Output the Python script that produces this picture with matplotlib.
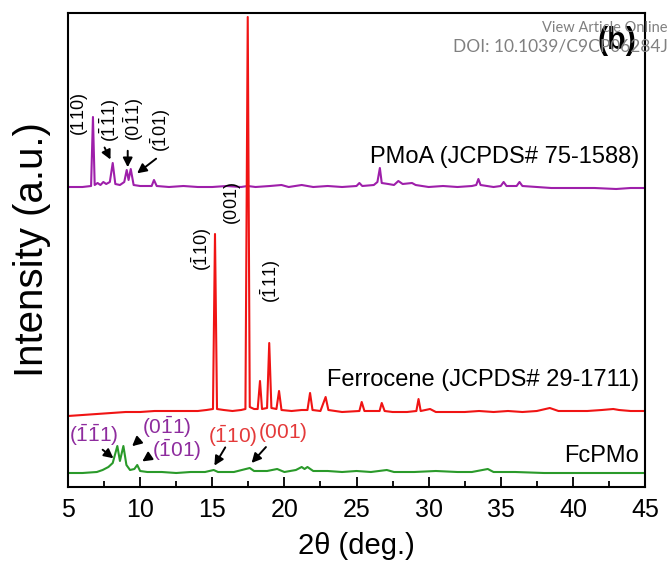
import matplotlib
matplotlib.use('Agg')
import matplotlib.pyplot as plt
from matplotlib.ticker import MultipleLocator

plt.rcParams['font.family'] = ['Liberation Sans', 'DejaVu Sans']
plt.rcParams['mathtext.fontset'] = 'custom'
plt.rcParams['mathtext.rm'] = 'Liberation Sans'
plt.rcParams['mathtext.it'] = 'Liberation Sans:italic'
plt.rcParams['mathtext.bf'] = 'Liberation Sans:bold'

# traced XRD patterns (2theta, stacked intensity in a.u.)
pmoa_tt = [5.0, 6.0, 6.6, 6.73, 6.85, 7.05, 7.25, 7.45, 7.65, 7.9, 8.1, 8.28, 8.6, 8.9,
           9.07, 9.2, 9.35, 9.55, 10.0, 10.8, 10.96, 11.15, 12.0, 13.0, 14.0, 15.0, 16.0,
           17.0, 17.45, 18.0, 19.0, 19.8, 20.3, 21.2, 22.0, 23.0, 24.0, 25.0, 25.2, 25.4,
           26.2, 26.45, 26.62, 26.75, 27.2, 27.6, 27.9, 28.2, 28.85, 29.1, 30.0, 31.0,
           32.0, 33.0, 33.3, 33.45, 33.6, 34.5, 35.0, 35.2, 35.4, 36.1, 36.3, 36.5, 37.5,
           38.5, 40.0, 41.5, 43.0, 44.0, 45.0]
pmoa_i = [300, 300, 301, 370, 302, 304, 302, 305, 303, 305, 324, 303, 302, 305,
          317, 307, 318, 302, 301, 301, 307, 301, 300, 301, 300, 300, 301,
          300, 301, 300, 301, 302, 300, 302, 300, 301, 300, 301, 304, 301,
          302, 305, 319, 304, 303, 302, 306, 303, 304, 302, 300, 301,
          300, 301, 302, 308, 302, 300, 301, 305, 301, 301, 305, 301, 300,
          299, 299, 299, 298, 299, 299]

fc_tt = [5.0, 6.0, 7.0, 8.0, 9.0, 10.0, 11.0, 12.0, 13.0, 14.0, 14.6, 15.05, 15.19, 15.33,
         15.8, 16.4, 17.0, 17.3, 17.46, 17.6, 17.9, 18.15, 18.31, 18.45, 18.8, 18.95, 19.1,
         19.45, 19.63, 19.8, 20.5, 21.2, 21.6, 21.78, 21.95, 22.5, 22.86, 23.05, 24.0, 25.2,
         25.36, 25.55, 26.0, 26.6, 26.75, 26.95, 27.5, 28.5, 29.15, 29.3, 29.45, 30.1, 30.5,
         31.5, 32.5, 33.5, 34.5, 35.5, 36.5, 37.5, 38.4, 39.0, 40.0, 41.0, 42.0, 42.8,
         43.2, 44.0, 45.0]
fc_i = [71, 72, 73, 74, 75, 75, 76, 76, 76, 76, 77, 78, 253, 78,
        77, 76, 77, 78, 470, 80, 78, 78, 106, 78, 79, 144, 79,
        78, 96, 77, 76, 77, 77, 94, 77, 76, 90, 77, 75, 76,
        85, 76, 76, 76, 84, 76, 75, 75, 76, 88, 76, 78, 75,
        75, 75, 76, 75, 76, 75, 76, 79, 76, 76, 76, 77, 78,
        77, 76, 76]

fcpmo_tt = [5.0, 6.0, 7.0, 7.4, 7.8, 8.1, 8.42, 8.6, 8.84, 9.05, 9.3, 9.6, 9.8, 10.0, 10.5,
            11.5, 12.5, 13.5, 14.5, 15.1, 15.4, 16.5, 17.6, 17.9, 18.8, 19.5, 20.0, 20.8,
            21.2, 21.4, 21.6, 22.0, 23.0, 24.0, 25.0, 26.0, 27.1, 27.6, 29.0, 30.5, 32.0,
            33.0, 34.1, 34.5, 36.0, 38.0, 40.0, 42.0, 45.0]
fcpmo_i = [14, 14, 15, 17, 20, 24, 41, 26, 41, 22, 17, 18, 22, 16, 15,
           15, 14, 15, 15, 17, 15, 15, 19, 16, 16, 18, 15, 17,
           20, 18, 20, 16, 16, 15, 16, 15, 17, 15, 15, 16, 15,
           15, 18, 15, 15, 14, 14, 14, 14]

purple = '#9E1FAA'
red = '#F01414'
green = '#2A9A2A'
lab_purple = '#8E2C9E'
lab_red = '#E43A3A'

fig = plt.figure(figsize=(6.69, 5.62), dpi=100)
ax = fig.add_axes([68 / 669, 1 - 487 / 562, 577 / 669, 474 / 562])

ax.plot(pmoa_tt, pmoa_i, color=purple, lw=1.5)
ax.plot(fc_tt, fc_i, color=red, lw=1.5)
ax.plot(fcpmo_tt, fcpmo_i, color=green, lw=1.5)

ax.set_xlim(5, 45)
ax.set_ylim(0, 474)
ax.xaxis.set_major_locator(MultipleLocator(5))
ax.xaxis.set_minor_locator(MultipleLocator(2.5))
ax.tick_params(axis='x', which='major', direction='in', length=7, width=1.3, labelsize=18, pad=8)
ax.tick_params(axis='x', which='minor', direction='in', length=4, width=1.3)
ax.set_yticks([])
for s in ax.spines.values():
    s.set_linewidth(1.5)

ax.set_xlabel('2\u03b8 (deg.)', fontsize=21, labelpad=7)
ax.set_ylabel('Intensity (a.u.)', fontsize=29, labelpad=12)

# series names
ax.text(44.6, 330, 'PMoA (JCPDS# 75-1588)', fontsize=17, ha='right', va='center')
ax.text(44.6, 107, 'Ferrocene (JCPDS# 29-1711)', fontsize=17, ha='right', va='center')
ax.text(44.6, 31, 'FcPMo', fontsize=17, ha='right', va='center')

# PMoA reflections
rot = dict(rotation=90, ha='center', va='center', fontsize=13)
ax.text(5.83, 372, r'$\mathrm{(110)}$', **rot)
ax.text(7.9, 366, r'$\mathrm{(\bar{1}\bar{1}1)}$', **rot)
ax.text(9.58, 367, r'$\mathrm{(0\bar{1}1)}$', **rot)
ax.text(11.42, 356, r'$\mathrm{(\bar{1}01)}$', **rot)
arw = dict(arrowstyle='-|>,head_length=0.55,head_width=0.28', color='black', lw=1.4)
ax.annotate('', xy=(8.03, 325), xytext=(7.45, 342), arrowprops=arw)
ax.annotate('', xy=(9.14, 317), xytext=(9.14, 339), arrowprops=arw)
ax.annotate('', xy=(9.64, 312), xytext=(11.26, 330), arrowprops=arw)

# ferrocene reflections
ax.text(14.27, 237, r'$\mathrm{(\bar{1}10)}$', **rot)
ax.text(16.4, 283, r'$\mathrm{(001)}$', **rot)
ax.text(19.05, 205, r'$\mathrm{(\bar{1}11)}$', **rot)

# FcPMo assignments
ax.text(6.8, 52, r'$\mathrm{(\bar{1}\bar{1}1)}$', fontsize=15, color=lab_purple, ha='center', va='center')
ax.text(11.85, 60, r'$\mathrm{(0\bar{1}1)}$', fontsize=15, color=lab_purple, ha='center', va='center')
ax.text(12.55, 37, r'$\mathrm{(\bar{1}01)}$', fontsize=15, color=lab_purple, ha='center', va='center')
ax.text(16.4, 51, r'$\mathrm{(\bar{1}10)}$', fontsize=15, color=lab_red, ha='center', va='center')
ax.text(19.9, 55, r'$\mathrm{(001)}$', fontsize=15, color=lab_red, ha='center', va='center')
ax.annotate('', xy=(8.3, 27), xytext=(7.25, 39), arrowprops=arw)
ax.annotate('', xy=(9.3, 39), xytext=(10.1, 49), arrowprops=arw)
ax.annotate('', xy=(9.99, 24), xytext=(10.8, 32), arrowprops=arw)
ax.annotate('', xy=(15.05, 19), xytext=(16.0, 42), arrowprops=arw)
ax.annotate('', xy=(17.6, 22), xytext=(18.85, 42), arrowprops=arw)

ax.text(0.985, 0.94, '(b)', transform=ax.transAxes, fontsize=22, fontweight='bold',
        ha='right', va='center')

# publisher watermark
fig.text(0.998, 1 - 28 / 562, 'View Article Online', fontsize=10.5, color='#808080',
         ha='right', va='center', family=['Lato', 'DejaVu Sans'])
fig.text(0.998, 1 - 47 / 562, 'DOI: 10.1039/C9CP06284J', fontsize=12.5, color='#808080',
         ha='right', va='center', family=['Lato', 'DejaVu Sans'])

fig.savefig('out.png', dpi=100)
